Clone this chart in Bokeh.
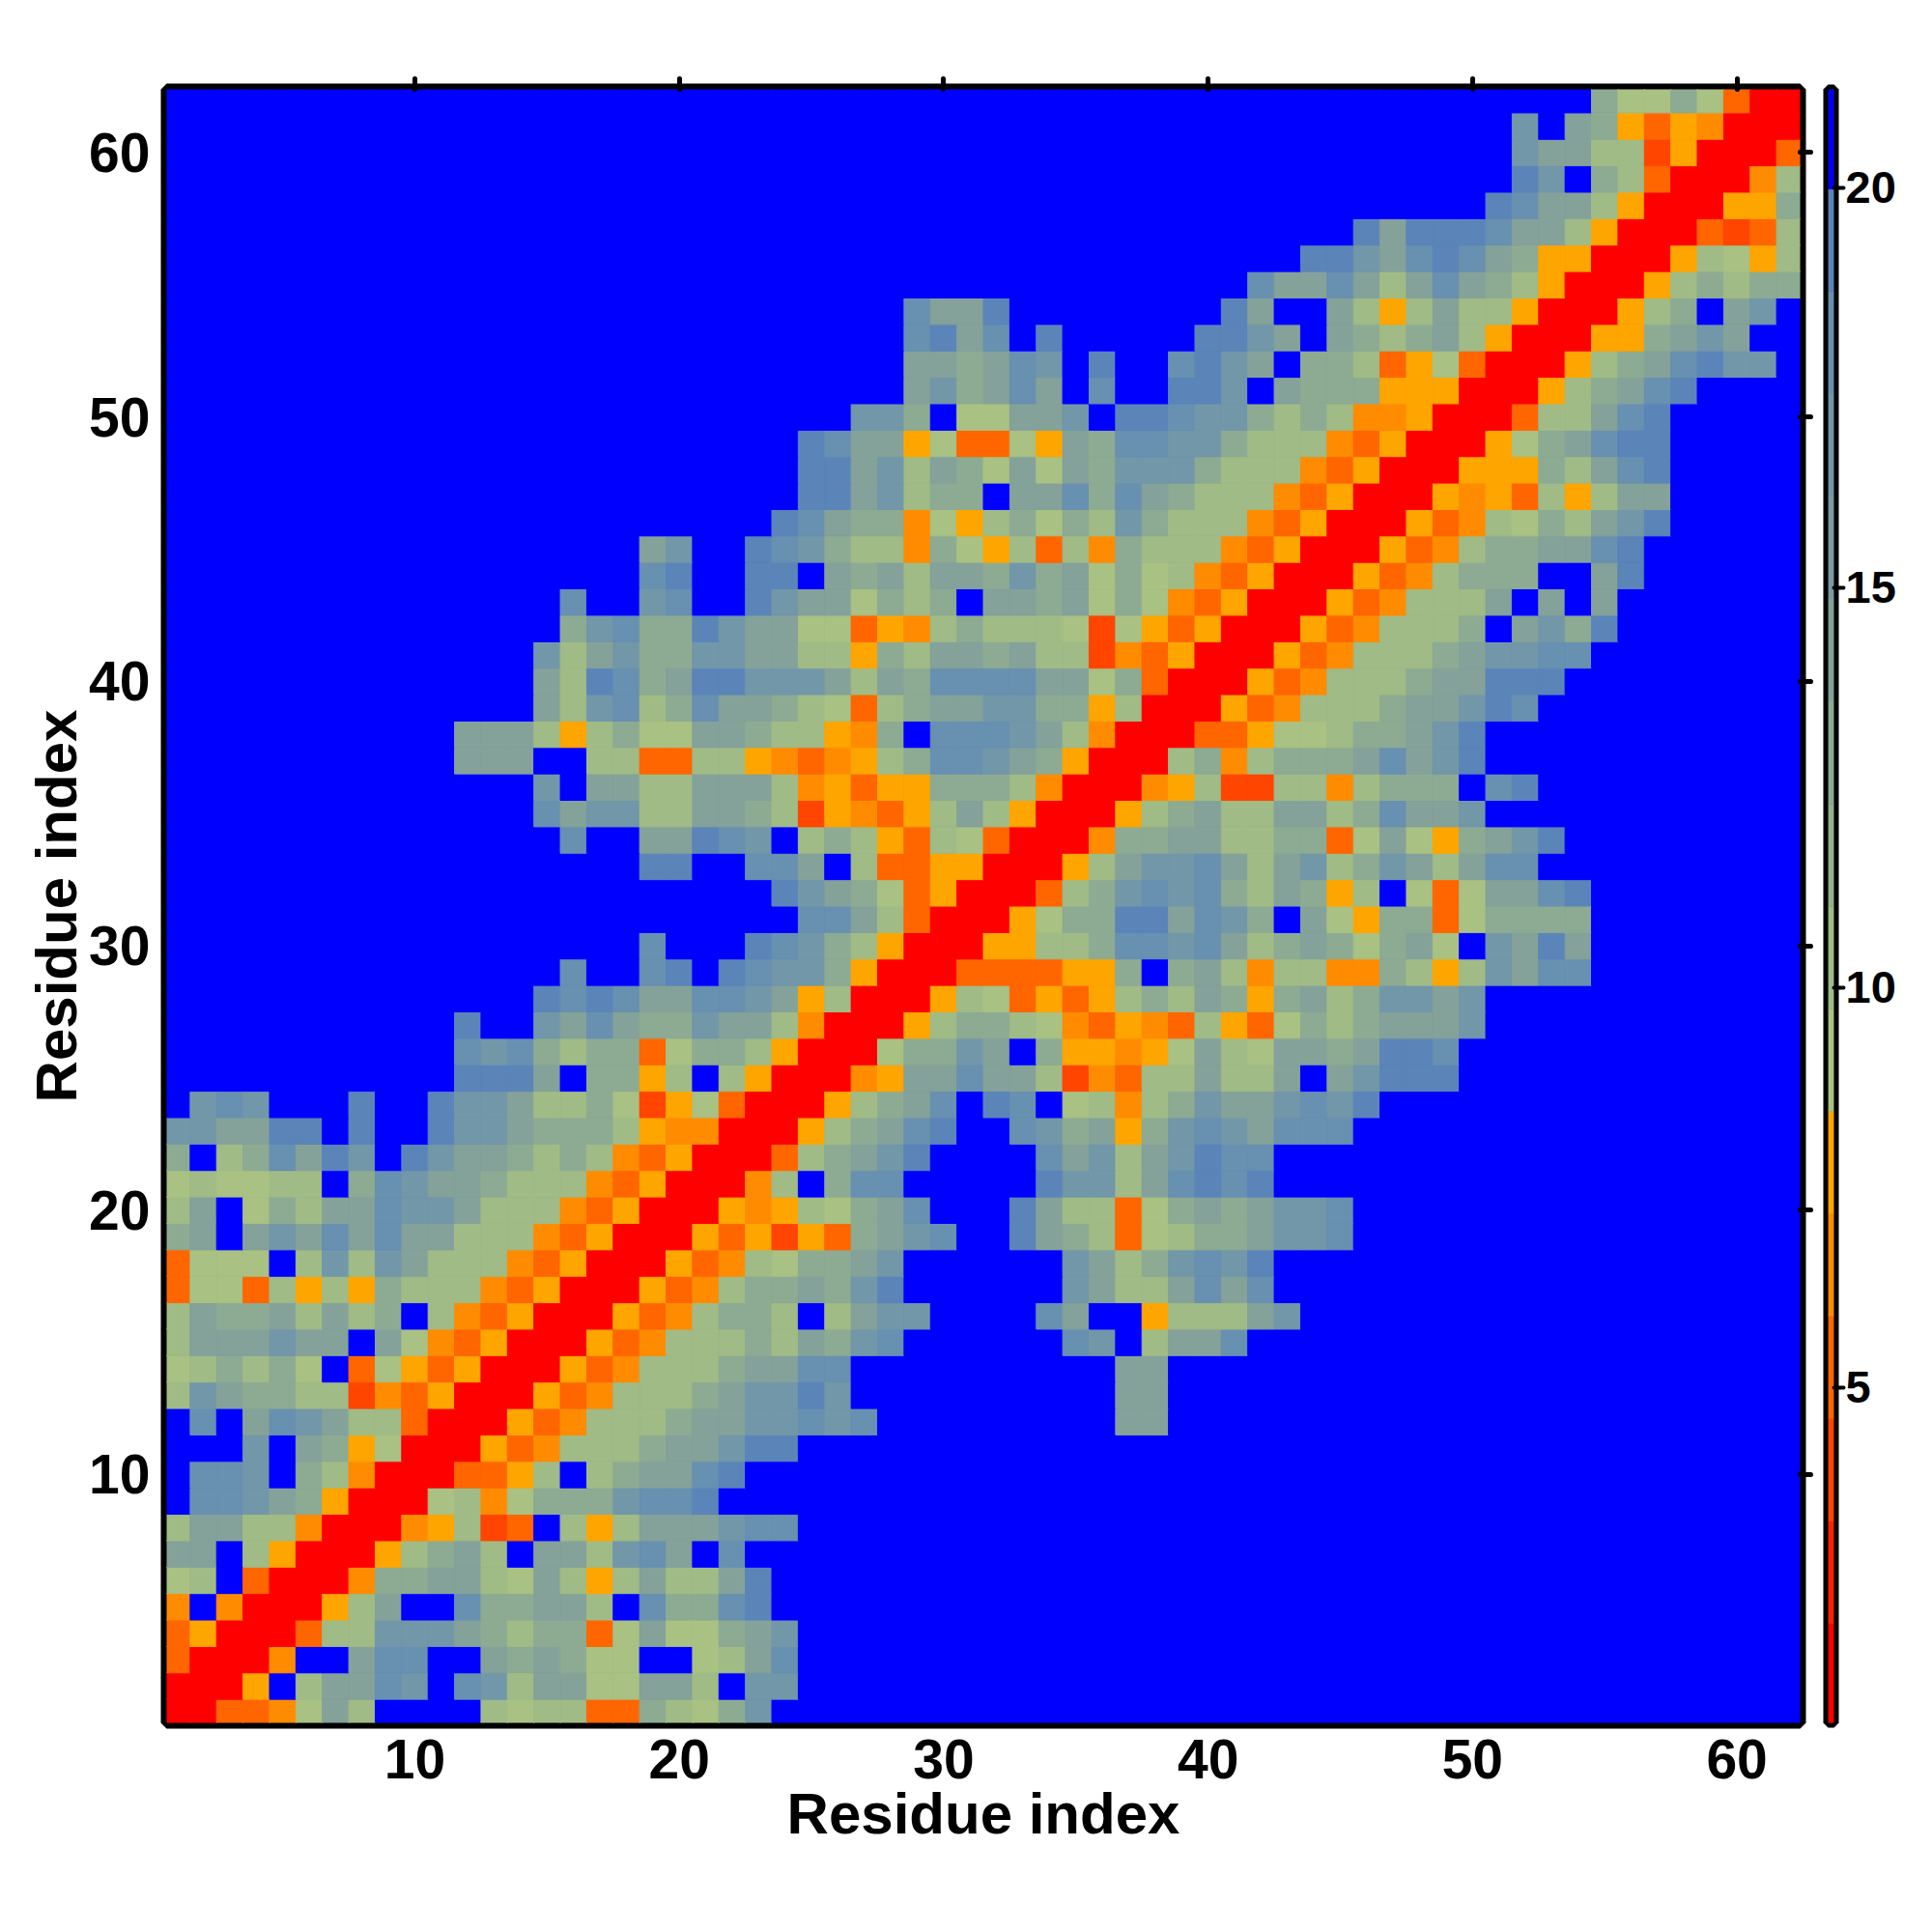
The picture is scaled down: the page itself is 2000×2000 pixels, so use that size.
from bokeh.embed import file_html
from bokeh.layouts import row
from bokeh.models import ColumnDataSource, FixedTicker, LinearAxis, LinearColorMapper
from bokeh.plotting import figure
from bokeh.resources import INLINE

# Bin breaks of the discrete colour scale
SCALE_LOW = 0.77
SCALE_HIGH = 21.26
N_BINS = 16
PALETTE = ["#ff0000", "#ff2200", "#ff4500", "#ff6600", "#ff8c00", "#ffa500",
           "#a9c182", "#a0bb86", "#96b18b", "#8dab92", "#84a299", "#7b9aa1",
           "#7297a9", "#6890b0", "#5b85b9", "#0000ff"]

# Letter code -> distance
LEVELS = {"R": 1.4, "E": 4.0, "D": 5.2, "N": 6.5, "A": 7.8, "g": 9.1, "h": 10.4,
          "i": 12.9, "j": 14.2, "k": 16.8, "l": 18.0, "m": 19.3, "B": 20.6}

# Each list runs from residue row 1 to row 62. Omitted cells are "B".
# Columns 1-21 (omitted on the left)
CELLS_LEFT = [
    "RRDDNgjhBBBBhghhDDihg", "RRRABhjjlkBlkhjjggjjh", "DRRRNBBjllBBjijiggBBg", "DARRRDhhkkkjihiiDgjgg",
    "NBNRRRAhjBBliijjhBlii", "ghBDRRRNiijjhgjhAhjhh", "jjBhARRRAhijhBjjhkljB", "hjjhhNRRRNAhEDBhAhjjj",
    "BllkjiARRRghNgiiikllm", "BllkBihNRRRDDAhBhijjl", "BBBkBjiAgRRRADNhhhijj", "BlBjlkjhhDRRRADNhhhij",
    "hkjiihhENDARRRADNhhhi", "ghihigBDgADARRRADNhhh", "hjjjkjjBjgNDARRRADNhh", "hjiijhjhiBhNDARRRADNh",
    "DggDhAhAihhhNDARRRADN", "DgggBhkhkjhhhNDARRRAD", "ijBjkjljljjhhhNDARRRA", "hjBgihjjlkkjhhhNDARRR",
    "ghgghhBilkjjihhhNDARR", "iBhiljmkBmkjjihihNDAR", "kkjjmmBmBBmkkjiiihANN", "BklkBBBmBBmkkjhhigEAg",
    "mmmjBiiAhB", "lklihiiDgi", "mBBkjljiik", "mlmljjl", "lBBlmB", "lBB", "", "",
    "mmB", "lBBjjm", "ljkkhhj", "kBjjhhj", "jjjBBhhDDh", "jjjhAhiggj", "jhklhil", "jhmlijm",
    "khjkiik", "ikliim", "lBBklB", "lmB", "jkB", "", "", "", "", "", "", "", "", "", "", "", "", "", "", "", "", "",
]
# Columns 22-42 (omitted on the right)
CELLS_MID = [
    "ik", "Bkk", "hjl", "ijk", "lm", "jm", "l", "kll", "", "m", "kmm",
    "jkklklBBBBBBBBBjj", "jkkmkBBBBBBBBBBjj", "ijjllBBBBBBBBBBjj",
    "hihjiklBBBBBBlkBhjjlB", "iihBhjkkBBBBljBBAhhhj", "hiijikmBBBBBBkjhhjljl", "NhgiijkBBBBBBkjhiklkm",
    "DAEADijklBBmjihDghiij", "ANAhgijlBBBmjhhDgijij", "RNhBillBBBBBmkkhjlmlm", "RRDhijkmBBBBljkhjkmll",
    "RRRAhijlmBBlkijAiklkj", "DRRRAhijlBmlBghNhikjj", "hARRRNAjjljjhENDhhjhh", "ihARRRgiikjBiAANAgjhg",
    "jjhNRRRAhiihgNDANDhAD", "lkjAhRRRAhgDADAhihjiA", "mlkkiARRRDDDDAAiBijhN", "BmlkihARRRAAhhillkljh",
    "BBBlljhDRRRAgiimmjlki", "BBmkjigDARRRDhiklklih", "BlljBhDDAARRRAhjkkljh", "lkBhihADhgDRRRNiijjhh",
    "jihEANDAhjhARRRAhijhh", "jjhNADAAiiihNRRRNAhEE", "hANDNAhillkjiARRRhiNh", "jihhANiBlllkjhNRRRDDA",
    "jjihgDhijjkkiiAhRRRAD", "mkkkjhjilllljjgiDRRRA", "kjjhhAihjjijhhENDARRR", "kjjggDANhihhhgEgADARR",
    "BmkjjgihiBjjijgigNDAR", "BmmBjijhjjikijgighNDA", "BmlkihhNigAhDhNihhhND", "BBmljiiNgAhigihkihhhN",
    "BBBmmjkhiiBjjliljihhh", "BBBmmjkhjigjgjikkkihh", "BBBmljjAgDDgAjillkkih", "BBBBBkkiBggjjkBmmlkki",
    "BBBBBBBjkijljBlBBmmkB", "BBBBBBBjjijlkBmBBlmkj", "BBBBBBBlmjlBmBBBBBmmk", "BBBBBBBljjmBBBBBBBBmj",
    "BBBBBBBBBBBBBBBBBBBBl", "", "", "", "", "", "", "",
]
# Columns 43-62 (omitted on the right)
CELLS_RIGHT = [
    "", "", "", "", "", "", "", "", "", "", "", "", "", "", "", "k", "", "", "kkl", "kkl", "", "",
    "lll", "klkm", "jBjkmmm", "jjijmml", "gihijjjk", "ijhikkjk", "hhNNihAhkjll", "ijigijgBkjmj",
    "BjgAiiDgiiii", "jiAhBgDgjjlm", "jkhikjhjll", "iiDgjgAijkm", "jjhiljjk", "hhNhiiiBlm", "iiijljkm", "gghiijkm",
    "Nhhhijjkml", "DNhhhijjmmm", "ADNhhhijkkll", "RADNhhhiBjkim", "RRADNhhhjBjBj", "RRRADNhiiiBBjm",
    "ARRRADNhiijjlm", "DARRRADNhgihjkm", "NDARRRANADhAhjj", "hNDARRRAAAihjlm", "hhNDARRRAgijlmm", "hihNNARRRDhhjlm",
    "jiiiAAARRRAhijlm", "BiihDAgDRRRAhijlmkk", "jBjihijhARRRAAijkjBB", "BBjhAhjhhARRRAhiBjkB", "jjljhjljihARRRAhihii",
    "BmmkjlmljiAARRRAhgAh", "BBBmjmmmljjhARRRDEDh", "BBBBBBBBmljjhARRRAAi", "BBBBBBBBBmkBihDRRRNh",
    "BBBBBBBBBkjjhhEARRRD", "BBBBBBBBBkBjiADANRRR", "BBBBBBBBBBBBiggigDRR",
]
AXIS_TICKS = [10, 20, 30, 40, 50, 60]
BAR_TICKS = [5, 10, 15, 20]
AXIS_TITLE = "Residue index"

FONT = "Liberation Sans"

mapper = LinearColorMapper(palette=PALETTE, low=SCALE_LOW, high=SCALE_HIGH)
xs, ys, vals = [], [], []
for r in range(62):
    line = CELLS_LEFT[r].rjust(21, "B") + CELLS_MID[r].ljust(21, "B") + CELLS_RIGHT[r].ljust(20, "B")
    for c, ch in enumerate(line[:62]):
        xs.append(c + 1)
        ys.append(r + 1)
        vals.append(LEVELS[ch])

p = figure(frame_width=1691, frame_height=1691, x_range=(0.61, 62.39), y_range=(0.61, 62.39),
           output_backend="svg", toolbar_location=None, background_fill_color="#0000ff",
           min_border_left=172, min_border_top=92, min_border_right=20, min_border_bottom=130)
p.grid.visible = False
src = ColumnDataSource(dict(x=xs, y=ys, v=vals))
p.rect("x", "y", 1, 1, source=src, fill_color={"field": "v", "transform": mapper},
       line_color={"field": "v", "transform": mapper}, line_width=1)
# The cells are painted over the inner half of the outline; the outer half is the frame.
p.outline_line_color = "black"
p.outline_line_width = 12

for ax in (p.xaxis[0], p.yaxis[0]):
    ax.ticker = FixedTicker(ticks=AXIS_TICKS)
    ax.axis_line_color = None
    ax.major_tick_line_color = None
    ax.minor_tick_line_color = None
    ax.major_label_text_font = FONT
    ax.major_label_text_font_style = "bold"
    ax.major_label_text_font_size = "57px"
    ax.major_label_text_color = "black"
    ax.axis_label = AXIS_TITLE
    ax.axis_label_text_font = FONT
    ax.axis_label_text_font_style = "bold"
    ax.axis_label_text_font_size = "60px"
    ax.axis_label_text_color = "black"
    ax.major_tick_in = 0
    ax.major_tick_out = 0
p.xaxis[0].major_label_standoff = 17
p.xaxis[0].axis_label_standoff = 0
p.yaxis[0].major_label_standoff = 17
p.yaxis[0].axis_label_standoff = -3
p.yaxis[0].major_label_orientation = "horizontal"

for side in ("above", "right"):
    ax = LinearAxis(ticker=FixedTicker(ticks=AXIS_TICKS))
    ax.axis_line_color = None
    ax.major_label_text_color = None
    ax.major_label_text_font_size = "1px"
    ax.major_label_standoff = 0
    ax.minor_tick_line_color = None
    ax.major_tick_line_color = "black"
    ax.major_tick_line_width = 5
    ax.major_tick_line_cap = "round"
    ax.major_tick_in = 0
    ax.major_tick_out = 11
    p.add_layout(ax, side)

breaks = [SCALE_LOW + i * (SCALE_HIGH - SCALE_LOW) / N_BINS for i in range(N_BINS + 1)]
bar = figure(frame_width=6, frame_height=1691, x_range=(0, 1), y_range=(0.81, 21.226),
             output_backend="svg", toolbar_location=None, y_axis_location="right", x_axis_location=None,
             min_border_left=9, min_border_top=92, min_border_right=90, min_border_bottom=130)
bar.grid.visible = False
bar.quad(left=0, right=1, bottom=breaks[:-1], top=breaks[1:], fill_color=PALETTE, line_color=PALETTE, line_width=0.5)
bar.outline_line_color = "black"
bar.outline_line_width = 10
ax = bar.yaxis[0]
ax.ticker = FixedTicker(ticks=BAR_TICKS)
ax.axis_line_color = None
ax.minor_tick_line_color = None
ax.major_tick_line_color = "black"
ax.major_tick_line_width = 4
ax.major_tick_line_cap = "round"
ax.major_tick_in = 0
ax.major_tick_out = 10
ax.major_label_standoff = 2
ax.major_label_text_font = FONT
ax.major_label_text_font_style = "bold"
ax.major_label_text_font_size = "47px"
ax.major_label_text_color = "black"

layout = row(p, bar, spacing=0)
open("out.html", "w").write(file_html(layout, INLINE))
